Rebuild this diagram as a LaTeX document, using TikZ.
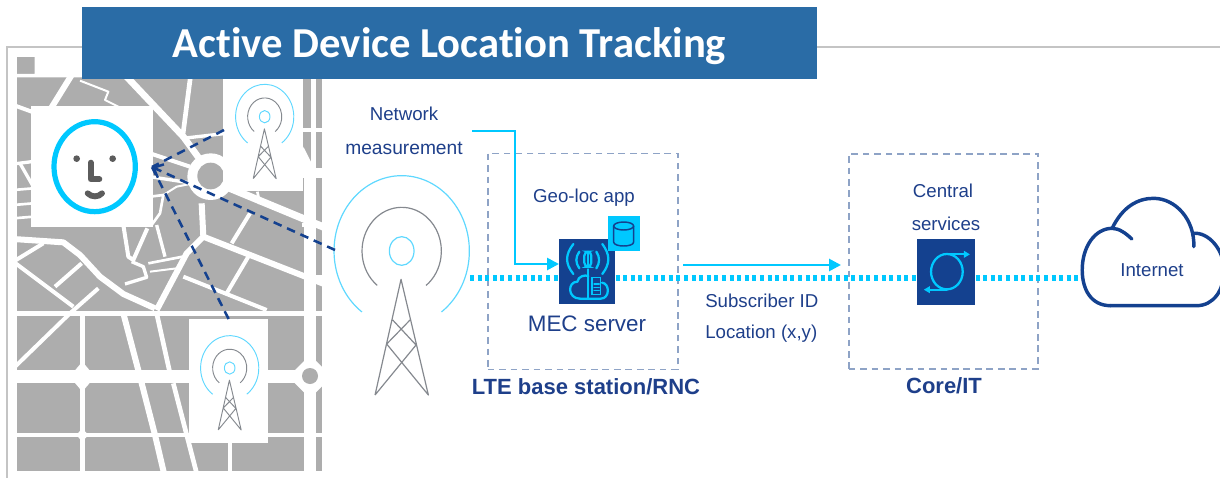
\documentclass[tikz,border=0pt]{standalone}
\usepackage{fontspec}
\setmainfont{Liberation Sans}
\newfontfamily\titlefont[Ligatures=NoCommon]{Carlito}
\usetikzlibrary{arrows.meta,positioning}
\definecolor{navy}{HTML}{14418F}
\definecolor{txtblue}{HTML}{1E3F8A}
\definecolor{cy}{HTML}{00C8FF}
\definecolor{thincy}{HTML}{5FD8FF}
\definecolor{mapgrey}{HTML}{ADADAD}
\definecolor{towergrey}{HTML}{85898F}
\definecolor{titleblue}{HTML}{2A6CA6}
\definecolor{boxdash}{HTML}{8EA3C6}
\definecolor{framegrey}{HTML}{C4C4C4}
\definecolor{facegrey}{HTML}{5C5C5C}
\tikzset{
  roadline/.style={draw=white,line join=round},
  lbl/.style={text=txtblue,font=\fontsize{14}{17}\selectfont,inner sep=0pt},
  lblbold/.style={text=txtblue,font=\fontsize{16.5}{20}\selectfont\bfseries,inner sep=0pt},
  whitebox/.style={fill=white,draw=none,inner sep=0pt,anchor=north west},
  dashbox/.style={draw=boxdash,line width=1.2pt,dash pattern=on 5pt off 3.6pt,anchor=north west,inner sep=0pt},
  squarebox/.style={fill=navy,draw=none,inner sep=0pt,anchor=north west},
  flow/.style={draw=cy,line width=3.8pt,dash pattern=on 3pt off 2.7pt},
  feed/.style={draw=cy,line width=2pt,-{Triangle[length=9pt,width=9pt]}},
  wireless/.style={draw=navy,line width=1.9pt,dash pattern=on 6.5pt off 4.5pt},
  iconline/.style={draw=cy,line width=1.7pt,line cap=round}
}
\newcommand\rd[2]{\draw[roadline,line width=#1*0.25pt] #2;}
\newcommand\towericon[4]{% cx cy scale linewidth
  \begin{scope}[shift={(#1,#2)},x=#3*0.25pt,y=-#3*0.25pt]
    \draw[thincy,line width=#4] (126:203 and 226) arc[start angle=126,end angle=414,x radius=203,y radius=226];
    \draw[towergrey,line width=#4] (128:119 and 131) arc[start angle=128,end angle=412,x radius=119,y radius=131];
    \draw[thincy,line width=#4] (0,0) ellipse[x radius=37,y radius=43];
    \draw[towergrey,line width=#4,line join=round] (-80,432)--(-2,85)--(80,432)--(-45,279)--(25,207) (-80,432)--(43,282)--(-27,207);
  \end{scope}}
\begin{document}
\begin{tikzpicture}[x=0.75pt,y=-0.75pt]
\useasboundingbox (0,0) rectangle (1220,478);
% frame
\draw[framegrey,line width=1.1pt] (1220,47)--(7,47)--(7,478);
% map
\begin{scope}[x=0.25pt,y=-0.25pt,yshift=-30pt]
  \clip (50,50) rectangle (967,1292);
  \fill[mapgrey] (50,50) rectangle (967,1292);
  \fill[white] (104,40) rectangle (980,112) (40,102) rectangle (980,112);
  \rd{38}{(40,1010)--(980,1010)}
  \rd{14}{(40,820)--(980,820)}
  \rd{14}{(40,1185)--(980,1185)}
  \rd{14}{(247,820)--(247,1300)}
  \fill[white] (247,965)--(285,1010)--(247,1055)--(209,1010)--cycle;
  \fill[white] (247,1165)--(265,1185)--(247,1205)--(229,1185)--cycle;
  \rd{16}{(940,100)--(940,400)}
  \rd{38}{(930,390)--(930,1300)}
  \rd{30}{(905,400)--(980,400)}
  \rd{10}{(905,270)--(980,270)}
  \rd{10}{(905,555)--(980,555)}
  \rd{20}{(940,715)--(980,715)}
  \fill[white] (910,320)--(950,400)--(905,400)--cycle;
  \fill[white] (930,945)--(995,1010)--(930,1075)--(865,1010)--cycle;
  \fill[mapgrey] (930,1008) circle (24);
  \rd{12}{(690,1190)--(690,1300)}
  \rd{18}{(370,820)--(420,1010)--(465,1185)--(492,1300)}
  \rd{14}{(470,820)--(510,1000)}
  \rd{14}{(520,1030)--(590,1300)}
  \rd{12}{(40,985)--(210,820)--(295,745)}
  \rd{18}{(40,597)--(190,607)--(240,645)--(300,710)--(370,762)--(465,805)}
  \rd{12}{(40,665)--(220,800)}
  \rd{12}{(165,740)--(245,670)}
  \rd{12}{(40,665)--(130,610)}
  \rd{18}{(470,810)--(560,640)--(610,590)--(605,490)}
  \rd{18}{(610,590)--(980,735)}
  \rd{12}{(550,710)--(800,810)}
  \rd{12}{(680,760)--(745,650)}
  \rd{12}{(695,610)--(750,520)}
  \rd{20}{(375,105)--(550,290)--(630,400)}
  \rd{22}{(630,420)--(980,565)}
  \rd{12}{(450,340)--(570,380)}
  \rd{10}{(450,410)--(580,430)}
  \rd{14}{(572,105)--(548,290)}
  \rd{10}{(548,295)--(680,280)}
  \rd{12}{(40,195)--(95,215)}
  \rd{18}{(150,210)--(215,105)}
  \rd{6}{(240,122)--(325,155)--(315,180)--(365,205)}
  \rd{10}{(40,372)--(95,365)}
  \rd{10}{(60,370)--(100,440)}
  \rd{8}{(40,450)--(100,445)}
  \rd{8}{(40,495)--(100,490)}
  \rd{8}{(40,535)--(100,530)}
  \rd{8}{(450,470)--(490,465)--(480,520)--(455,555)}
  \rd{6}{(490,465)--(530,440)--(580,430)}
  \rd{12}{(370,555)--(385,650)--(400,660)--(442,565)}
  \rd{10}{(470,555)--(495,650)}
  \rd{10}{(395,665)--(430,680)--(440,712)--(375,732)}
  \rd{8}{(445,670)--(548,650)}
  \rd{6}{(450,695)--(530,685)}
  \rd{8}{(772,455)--(780,492)}
  \fill[white] (632,410) circle (70);
  \fill[mapgrey] (632,408) circle (40);
\end{scope}
% white boxes on the map
\node[whitebox,minimum width=91pt,minimum height=91pt] (face) at (31,105.5) {};
\node[whitebox,minimum width=60pt,minimum height=84pt] (towerT) at (223,79) {};
\node[whitebox,minimum width=59pt,minimum height=92.5pt] (towerB) at (189,319) {};
% face
\begin{scope}[shift={(0,40)},x=0.25pt,y=-0.25pt]
  \draw[cy,line width=3.9pt] (284,380) ellipse[x radius=122,y radius=135];
  \fill[facegrey] (230,356) circle (10) (338,356) circle (10);
  \draw[facegrey,line width=4.4pt,line cap=round,line join=round] (272,368)--(272,418)--(298,418);
  \draw[facegrey,line width=4.4pt,line cap=round] (263,460) .. controls (275,472) and (295,472) .. (306,460);
\end{scope}
% towers
\towericon{264.7}{116.7}{0.43}{0.7pt}
\towericon{229.7}{368}{0.43}{0.7pt}
\towericon{401.7}{251}{1}{0.9pt}
% dashed radio links
\coordinate (hub) at (152,167);
\coordinate (linkT) at (224,130);
\coordinate (linkM) at (335,250);
\draw[wireless] (linkT)--(hub);
\draw[wireless] (towerB.north)--(hub);
\draw[wireless,-{Straight Barb[length=6pt,width=11pt,line width=1.8pt]}] (linkM)--(hub);
% title
\node[fill=titleblue,minimum width=551.25pt,minimum height=54pt,inner sep=0pt,anchor=north west] (titlebar) at (82,7) {};
\node[text=white,inner sep=0pt,anchor=base,font=\titlefont\fontsize{32}{38}\selectfont\bfseries] (title) at (449.5,58) {Active Device Location Tracking};
% dashed boxes
\node[dashbox,minimum width=142.5pt,minimum height=162pt] (lte) at (487,152.5) {};
\node[dashbox,minimum width=142pt,minimum height=161.5pt] (core) at (848,153) {};
% dotted flow
\node[squarebox,minimum width=42pt,minimum height=48.5pt] (mec) at (559,239) {};
\node[squarebox,minimum width=43.5pt,minimum height=49pt] (central) at (917,239) {};
\node[fill=cy,draw=none,inner sep=0pt,minimum width=24pt,minimum height=26pt,anchor=north west] (db) at (607.5,216) {};
\coordinate (flowstart) at (470,278);
\coordinate (cloudleft) at (1081,278);
\draw[flow] (flowstart)--(mec.west |- flowstart);
\draw[flow] (mec.east |- flowstart)--(central.west |- flowstart);
\draw[flow] (central.east |- flowstart)--(cloudleft);
% feed arrows
\coordinate (feedstart) at (472,131);
\coordinate (feedcorner) at (515,264);
\draw[feed] (feedstart)-|(feedcorner)--(feedcorner -| mec.west);
\coordinate (subA) at (683,265);
\coordinate (subB) at (841,265);
\draw[feed] (subA)--(subB);
% database
\begin{scope}[shift={(530,200)},x=0.25pt,y=-0.25pt]
  \draw[navy,line width=1.1pt,line join=round] (251,78)--(251,126) .. controls (251,142) and (311,142) .. (311,126)--(311,78);
  \draw[navy,line width=1.1pt] (281,78) ellipse[x radius=30,y radius=12];
\end{scope}
% MEC icon
\begin{scope}[shift={(530,200)},x=0.25pt,y=-0.25pt]
  \draw[iconline] (130,132) .. controls (105,165) and (105,190) .. (130,222);
  \draw[iconline] (217,132) .. controls (241,165) and (241,190) .. (217,222);
  \draw[iconline] (148,155) .. controls (136,172) and (136,188) .. (148,205);
  \draw[iconline] (199,155) .. controls (210,172) and (210,188) .. (199,205);
  \draw[iconline,rounded corners=3pt] (163,155) rectangle (184,200);
  \draw[iconline] (173,155)--(173,200);
  \draw[iconline] (173,208)--(173,295);
  \draw[iconline] (150,296)--(212,296) .. controls (240,296) and (240,250) .. (216,248);
  \draw[iconline] (150,296) .. controls (112,296) and (112,245) .. (142,245) .. controls (145,228) and (165,224) .. (175,228);
  \draw[iconline,line width=1.2pt] (186,232)--(212,232)--(212,284)--(186,284)--cycle;
  \draw[iconline,line width=0.9pt] (192,252)--(208,252) (192,262)--(208,262) (192,272)--(208,272);
\end{scope}
% central icon
\begin{scope}[shift={(680,140)},x=0.25pt*3/2.904,y=-0.25pt]
  \draw[iconline,line width=1.7pt] (775,395) ellipse[x radius=46,y radius=53];
  \draw[iconline,line width=1.4pt,-{Triangle[length=4.5pt,width=5pt]}] (775,343)--(842,343);
  \draw[iconline,line width=1.4pt,-{Triangle[length=4.5pt,width=5pt]}] (775,449)--(708,449);
\end{scope}
% cloud
\begin{scope}[shift={(680,140)},x=0.25pt*3/2.904,y=-0.25pt]
  \clip (1100,100) rectangle (1568,600);
  \draw[navy,line width=2.6pt,line cap=round,line join=round]
    (1250,497) .. controls (1195,497) and (1168,450) .. (1168,390)
    .. controls (1168,320) and (1205,265) .. (1255,265)
    .. controls (1275,265) and (1295,280) .. (1312,297);
  \draw[navy,line width=2.6pt,line cap=round]
    (1255,265) .. controls (1285,200) and (1330,175) .. (1375,175)
    .. controls (1440,175) and (1495,240) .. (1492,320);
  \draw[navy,line width=2.6pt,line cap=round]
    (1490,280) .. controls (1535,275) and (1580,330) .. (1580,390)
    .. controls (1580,450) and (1550,497) .. (1500,497) -- (1250,497);
\end{scope}
% labels
\node[lbl] (net1) at (404,114) {Network};
\node[lbl,font=\fontsize{14.4}{17}\selectfont] (net2) at (404,148) {measurement};
\node[lbl] (geo) at (584,198) {Geo-loc app};
\node[lbl,font=\fontsize{16.8}{20}\selectfont] (mecl) at (587,324) {MEC server};
\node[lblbold] (ltel) at (586,387) {LTE base station/RNC};
\node[lbl,anchor=west] (sub) at (705,301) {Subscriber ID};
\node[lbl,anchor=west] (loc) at (705,333.5) {Location (x,y)};
\node[lbl] (c1) at (943,191) {Central};
\node[lbl] (c2) at (946,224) {services};
\node[lblbold] (corel) at (944,386) {Core/IT};
\node[lbl] (inet) at (1152,270) {Internet};
\end{tikzpicture}
\end{document}
